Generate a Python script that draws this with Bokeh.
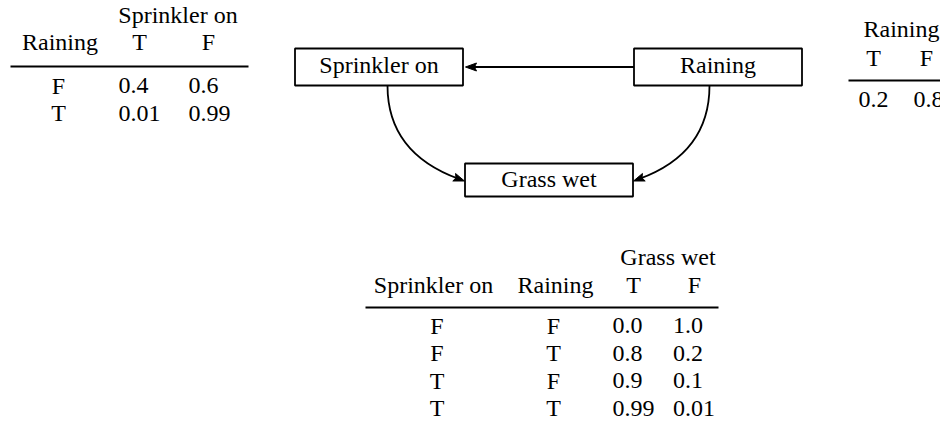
import math
from bokeh.plotting import figure
from bokeh.models import Range1d
from bokeh.core.properties import value
from bokeh.embed import file_html
from bokeh.resources import INLINE

# ---------------- data ----------------
node_names = ["Sprinkler on", "Raining", "Grass wet"]
edges = [("Raining", "Sprinkler on"), ("Sprinkler on", "Grass wet"), ("Raining", "Grass wet")]

rain_states = ["T", "F"]
rain_prob = [0.2, 0.8]

sprinkler_parent_raining = ["F", "T"]
sprinkler_states = ["T", "F"]
sprinkler_T = [0.4, 0.01]
sprinkler_F = [0.6, 0.99]

grass_parent_sprinkler = ["F", "F", "T", "T"]
grass_parent_raining = ["F", "T", "F", "T"]
grass_states = ["T", "F"]
grass_T = [0.0, 0.8, 0.9, 0.99]
grass_F = [1.0, 0.2, 0.1, 0.01]

# ---------------- layout ----------------
W, H = 940, 427
p = figure(width=W, height=H, x_range=Range1d(0, W), y_range=Range1d(H, 0),
           output_backend="svg", toolbar_location=None,
           x_axis_location=None, y_axis_location=None, min_border=0,
           outline_line_color=None, background_fill_color="white", border_fill_color="white")
p.grid.visible = False

FONT = value("Liberation Serif")
FS = value("24px")
LW = 1.8
TDY = -9  # baseline correction of the svg text renderer


def fmt(vals):
    return [str(v) for v in vals]


def txt(xs, ys, texts, align="center"):
    p.text(x=xs, y=[y + TDY for y in ys], text=texts, text_font=FONT, text_font_size=FS,
           text_align=align, text_baseline="alphabetic", text_color="black")


def rule(x0, x1, y):
    p.segment(x0=[x0], y0=[y], x1=[x1], y1=[y], line_color="black", line_width=2)


# --- CPT: Sprinkler on | Raining (top left)
txt([177.5], [23], ["Sprinkler on"])
txt([59.5], [50], ["Raining"])
txt([139, 208], [50, 50], sprinkler_states)
rule(10, 248, 66)
ys = [94, 121.5]
txt([58] * 2, ys, sprinkler_parent_raining)
txt([118] * 2, ys, fmt(sprinkler_T), "left")
txt([188] * 2, ys, fmt(sprinkler_F), "left")

# --- CPT: Raining (top right)
txt([901], [37], ["Raining"])
txt([873, 926], [66.5, 66.5], rain_states)
rule(848, 940, 80)
txt([858, 913], [108, 108], fmt(rain_prob), "left")

# --- CPT: Grass wet (bottom)
txt([667.5], [265], ["Grass wet"])
txt([433, 555], [293, 293], ["Sprinkler on", "Raining"])
txt([633, 694], [293, 293], grass_states)
rule(365, 718, 307)
ys = [334, 361.5, 389, 416.5]
txt([436.5] * 4, ys, grass_parent_sprinkler)
txt([553] * 4, ys, grass_parent_raining)
txt([612] * 4, ys, fmt(grass_T), "left")
txt([672.5] * 4, ys, fmt(grass_F), "left")

# --- nodes
node_cx = {"Sprinkler on": 378.5, "Raining": 717.5, "Grass wet": 548.5}
node_cy = {"Sprinkler on": 66.5, "Raining": 66.5, "Grass wet": 179.5}
node_h = {"Sprinkler on": 37, "Raining": 37, "Grass wet": 33}
node_base = {"Sprinkler on": 6.5, "Raining": 6.5, "Grass wet": 7.5}
NODE_W = 168

p.quad(left=[node_cx[n] - NODE_W / 2 for n in node_names],
       right=[node_cx[n] + NODE_W / 2 for n in node_names],
       top=[node_cy[n] - node_h[n] / 2 for n in node_names],
       bottom=[node_cy[n] + node_h[n] / 2 for n in node_names],
       fill_color="white", line_color="black", line_width=LW)
txt([node_cx[n] for n in node_names], [node_cy[n] + node_base[n] for n in node_names], node_names)

# --- edges
AL, AHW, AC = 11.0, 4.0, 2.0
heads_x, heads_y = [], []


def head(tx, ty, dx, dy):
    bx, by = tx - AL * dx, ty - AL * dy
    nx, ny = -dy, dx
    ix, iy = tx - (AL - AC) * dx, ty - (AL - AC) * dy
    heads_x.append([tx, bx + AHW * nx, ix, bx - AHW * nx])
    heads_y.append([ty, by + AHW * ny, iy, by - AHW * ny])


for src, dst in edges:
    if node_cy[src] == node_cy[dst]:
        sx = node_cx[src] - NODE_W / 2
        tx = node_cx[dst] + NODE_W / 2 + 2.5
        y = node_cy[src]
        p.segment(x0=[sx], y0=[y], x1=[tx + 6], y1=[y], line_color="black", line_width=LW)
        head(tx, y, -1.0, 0.0)
    else:
        side = 1 if node_cx[src] < node_cx[dst] else -1
        sx = node_cx[src] + side * 8.5
        sy = node_cy[src] + node_h[src] / 2
        tx = node_cx[dst] - side * (NODE_W / 2 + 0.5)
        ty = node_cy[dst] + 1
        ang = math.radians(20)
        dx, dy = side * math.cos(ang), math.sin(ang)
        ex, ey = tx - 6 * dx, ty - 6 * dy
        p.bezier(x0=[sx], y0=[sy], x1=[ex], y1=[ey],
                 cx0=[sx], cy0=[sy + 52], cx1=[ex - 42 * dx], cy1=[ey - 42 * dy],
                 line_color="black", line_width=LW)
        head(tx, ty, dx, dy)

p.patches(xs=heads_x, ys=heads_y, fill_color="black", line_color="black", line_width=1)

open("out.html", "w").write(file_html(p, INLINE))
